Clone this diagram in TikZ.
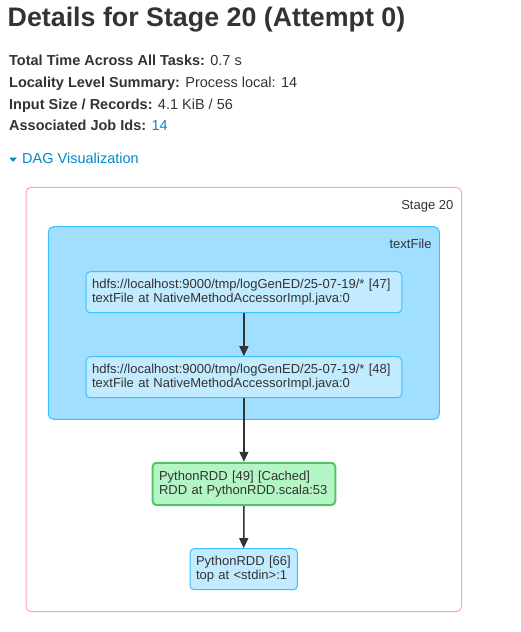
\documentclass[tikz,border=0pt]{standalone}
\usepackage{fontspec}
\setmainfont{Liberation Sans}
\usepackage{xcolor}
\usetikzlibrary{arrows.meta,positioning}

\definecolor{txtgray}{HTML}{333333}
\definecolor{linkblue}{HTML}{0088CC}
\definecolor{stageline}{HTML}{F7A8B8}
\definecolor{clusterfill}{HTML}{A0DFFF}
\definecolor{clusterline}{HTML}{3EC0FF}
\definecolor{rddfill}{HTML}{C3EBFF}
\definecolor{cachedfill}{HTML}{B3F5C5}
\definecolor{cachedline}{HTML}{52C366}
\definecolor{edgegray}{HTML}{333333}

\tikzset{
  rdd/.style={draw=clusterline,fill=rddfill,rounded corners=4pt,line width=1pt,
    align=left,inner xsep=6pt,inner ysep=0pt,minimum height=41pt,
    font=\fontsize{13}{13.5}\selectfont,text=txtgray},
  cached/.style={rdd,draw=cachedline,fill=cachedfill,line width=2pt,inner xsep=6.5pt},
  edge/.style={draw=edgegray,line width=1.5pt,-{Triangle[length=10pt,width=9pt]}},
  info/.style={anchor=base west,inner sep=0pt,text=txtgray,font=\fontsize{14.5}{17}\selectfont}
}

\begin{document}
\begin{tikzpicture}[x=1pt,y=-1pt]
\useasboundingbox (0,0) rectangle (520,632);

% Header
\node[anchor=base west,inner sep=0pt,text=txtgray,font=\fontsize{26.8}{30}\selectfont\bfseries] (title) at (7.5,26) {Details for Stage 20 (Attempt 0)};
\node[info] (total) at (9,65.7) {\textbf{Total Time Across All Tasks:} 0.7 s};
\node[info] (locality) at (9,87.3) {\textbf{Locality Level Summary:} Process local: 14};
\node[info] (input) at (9,109) {\textbf{Input Size / Records:} 4.1 KiB / 56};
\node[info] (jobs) at (9,130.7) {\textbf{Associated Job Ids:} \textcolor{linkblue}{14}};
\fill[linkblue] (9.3,157.5) -- (16.9,157.5) -- (13.1,161.9) -- cycle;
\node[info,text=linkblue] (dagviz) at (22,163.3) {DAG Visualization};

% Stage
\draw[stageline,fill=white,line width=1pt,rounded corners=5pt] (26,187.3) rectangle (461.5,611.5);
\node[anchor=base east,inner sep=0pt,text=txtgray,font=\fontsize{13}{15}\selectfont] (stagelbl) at (453.5,209.3) {Stage 20};

% textFile cluster
\draw[clusterline,fill=clusterfill,line width=1pt,rounded corners=5pt] (48.3,226.7) rectangle (439.3,419.3);
\node[anchor=base east,inner sep=0pt,text=txtgray,font=\fontsize{13}{15}\selectfont] (clusterlbl) at (431.7,248.5) {textFile};

% RDDs
\node[rdd,text width=303.7pt] (n47) at (243.9,292.2) {hdfs://localhost:9000/tmp/logGenED/25-07-19/* [47]\\textFile at NativeMethodAccessorImpl.java:0};
\node[rdd,text width=303.7pt] (n48) at (243.9,377.2) {hdfs://localhost:9000/tmp/logGenED/25-07-19/* [48]\\textFile at NativeMethodAccessorImpl.java:0};
\node[cached,text width=169.7pt,minimum height=42.3pt] (n49) at (243.9,483.9) {PythonRDD [49] [Cached]\\RDD at PythonRDD.scala:53};
\node[rdd,text width=95.3pt] (n66) at (243.7,569.2) {PythonRDD [66]\\top at <stdin>:1};

% Edges
\draw[edge] (n47.south) -- (n48.north);
\draw[edge] (n48.south) -- (n49.north);
\draw[edge] (n49.south) -- (n66.north);
\end{tikzpicture}
\end{document}
